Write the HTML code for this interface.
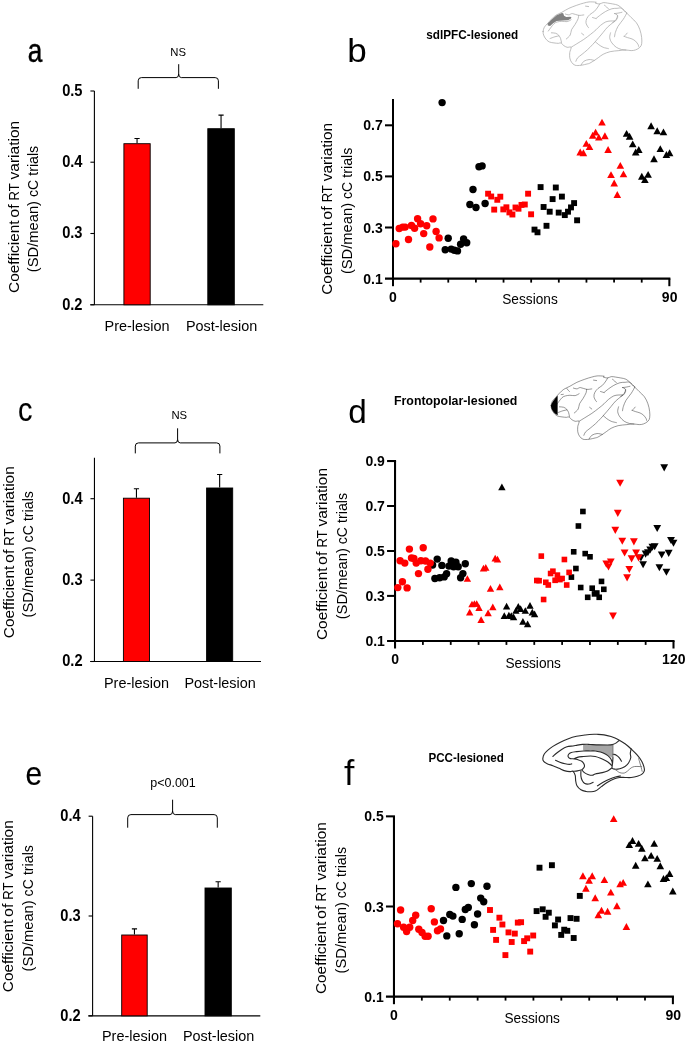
<!DOCTYPE html><html><head><meta charset="utf-8"><title>Figure</title><style>html,body{margin:0;padding:0;background:#fff}svg{display:block;font-family:"Liberation Sans",sans-serif;fill:#000;will-change:transform;-webkit-font-smoothing:antialiased}</style></head><body><svg width="685" height="1049" viewBox="0 0 685 1049"><rect width="685" height="1049" fill="#fff"/><text transform="translate(27.8 62.3) scale(0.77 1)" font-size="34" stroke="#000" stroke-width="0.5">a</text><path d="M94.4 91.0V304.8" stroke="#000" stroke-width="1.1" fill="none"/><path d="M90.3 304.8H263.3" stroke="#000" stroke-width="1.1" fill="none"/><path d="M90.4 91.0H94.4" stroke="#000" stroke-width="1.1"/><text transform="translate(82.5 95.8) scale(0.94 1)" font-size="15.6" font-weight="bold" text-anchor="end">0.5</text><path d="M90.4 162.2H94.4" stroke="#000" stroke-width="1.1"/><text transform="translate(82.5 167.0) scale(0.94 1)" font-size="15.6" font-weight="bold" text-anchor="end">0.4</text><path d="M90.4 233.5H94.4" stroke="#000" stroke-width="1.1"/><text transform="translate(82.5 238.3) scale(0.94 1)" font-size="15.6" font-weight="bold" text-anchor="end">0.3</text><path d="M90.4 304.8H94.4" stroke="#000" stroke-width="1.1"/><text transform="translate(82.5 309.6) scale(0.94 1)" font-size="15.6" font-weight="bold" text-anchor="end">0.2</text><path d="M137.05 143.3V138.5M134.45000000000002 138.5H139.65" stroke="#000" stroke-width="1.1" fill="none"/><rect x="123.9" y="143.70000000000002" width="26.299999999999994" height="161.1" fill="#ff0000" stroke="#000" stroke-width="0.9"/><path d="M221.05 128.3V115.1M218.45000000000002 115.1H223.65" stroke="#000" stroke-width="1.1" fill="none"/><rect x="207.8" y="128.70000000000002" width="26.499999999999982" height="176.1" fill="#000000" stroke="#000" stroke-width="0.9"/><path d="M138.2 88.8V80.8Q138.2 77.6 141.39999999999998 77.6H176.1Q178.7 77.6 178.7 74.0V64.2M178.7 74.0Q178.7 77.6 181.29999999999998 77.6H215.20000000000002Q218.4 77.6 218.4 80.8V88.8" stroke="#000" stroke-width="1" fill="none"/><text x="178.2" y="56.2" font-size="11.3" font-weight="normal" text-anchor="middle" >NS</text><text transform="translate(18.9 292.9) rotate(-90)" font-size="15" textLength="72.5" lengthAdjust="spacingAndGlyphs">Coefficient</text><text transform="translate(18.9 217.8) rotate(-90)" font-size="15" textLength="13.5" lengthAdjust="spacingAndGlyphs">of</text><text transform="translate(18.9 200.4) rotate(-90)" font-size="15" textLength="17.1" lengthAdjust="spacingAndGlyphs">RT</text><text transform="translate(18.9 179.4) rotate(-90)" font-size="15" textLength="58.5" lengthAdjust="spacingAndGlyphs">variation</text><text transform="translate(38.4 272.2) rotate(-90)" font-size="15" textLength="71.2" lengthAdjust="spacingAndGlyphs">(SD/mean)</text><text transform="translate(38.4 197.1) rotate(-90)" font-size="15" textLength="17.2" lengthAdjust="spacingAndGlyphs">cC</text><text transform="translate(38.4 175.8) rotate(-90)" font-size="15" textLength="30.0" lengthAdjust="spacingAndGlyphs">trials</text><text x="137.05" y="330.6" font-size="15" font-weight="normal" text-anchor="middle" textLength="65" lengthAdjust="spacingAndGlyphs">Pre-lesion</text><text x="221.55" y="330.6" font-size="15" font-weight="normal" text-anchor="middle" textLength="71.3" lengthAdjust="spacingAndGlyphs">Post-lesion</text><text transform="translate(18.0 421.4) scale(0.85 1)" font-size="34" stroke="#000" stroke-width="0.15">c</text><path d="M94.45 457.8V661.5" stroke="#000" stroke-width="1.1" fill="none"/><path d="M90.2 661.5H261" stroke="#000" stroke-width="1.1" fill="none"/><path d="M90.45 498.7H94.45" stroke="#000" stroke-width="1.1"/><text transform="translate(82.55 503.5) scale(0.94 1)" font-size="15.6" font-weight="bold" text-anchor="end">0.4</text><path d="M90.45 580.1H94.45" stroke="#000" stroke-width="1.1"/><text transform="translate(82.55 584.9) scale(0.94 1)" font-size="15.6" font-weight="bold" text-anchor="end">0.3</text><path d="M90.45 661.5H94.45" stroke="#000" stroke-width="1.1"/><text transform="translate(82.55 666.3) scale(0.94 1)" font-size="15.6" font-weight="bold" text-anchor="end">0.2</text><path d="M136.45 497.8V488.8M133.85 488.8H139.04999999999998" stroke="#000" stroke-width="1.1" fill="none"/><rect x="123.4" y="498.2" width="26.100000000000005" height="163.29999999999998" fill="#ff0000" stroke="#000" stroke-width="0.9"/><path d="M219.64999999999998 487.6V474.5M217.04999999999998 474.5H222.24999999999997" stroke="#000" stroke-width="1.1" fill="none"/><rect x="206.6" y="488.0" width="26.100000000000005" height="173.49999999999997" fill="#000000" stroke="#000" stroke-width="0.9"/><path d="M135.3 453.4V446.09999999999997Q135.3 442.9 138.5 442.9H175.0Q177.6 442.9 177.6 439.29999999999995V428.3M177.6 439.29999999999995Q177.6 442.9 180.2 442.9H216.70000000000002Q219.9 442.9 219.9 446.09999999999997V453.4" stroke="#000" stroke-width="1" fill="none"/><text x="179.3" y="419.2" font-size="11.3" font-weight="normal" text-anchor="middle" >NS</text><text transform="translate(13.6 638.2) rotate(-90)" font-size="15" textLength="72.5" lengthAdjust="spacingAndGlyphs">Coefficient</text><text transform="translate(13.6 563.1) rotate(-90)" font-size="15" textLength="13.5" lengthAdjust="spacingAndGlyphs">of</text><text transform="translate(13.6 545.7) rotate(-90)" font-size="15" textLength="17.1" lengthAdjust="spacingAndGlyphs">RT</text><text transform="translate(13.6 524.7) rotate(-90)" font-size="15" textLength="58.5" lengthAdjust="spacingAndGlyphs">variation</text><text transform="translate(33.2 617.5) rotate(-90)" font-size="15" textLength="71.2" lengthAdjust="spacingAndGlyphs">(SD/mean)</text><text transform="translate(33.2 542.4) rotate(-90)" font-size="15" textLength="17.2" lengthAdjust="spacingAndGlyphs">cC</text><text transform="translate(33.2 521.1) rotate(-90)" font-size="15" textLength="30.0" lengthAdjust="spacingAndGlyphs">trials</text><text x="136.45" y="687.5" font-size="15" font-weight="normal" text-anchor="middle" textLength="65" lengthAdjust="spacingAndGlyphs">Pre-lesion</text><text x="220.14999999999998" y="687.5" font-size="15" font-weight="normal" text-anchor="middle" textLength="71.3" lengthAdjust="spacingAndGlyphs">Post-lesion</text><text transform="translate(25.6 784.8) scale(0.905 1)" font-size="33" stroke="#000" stroke-width="0.15">e</text><path d="M92.6 816.2V1015.85" stroke="#000" stroke-width="1.1" fill="none"/><path d="M88.3 1015.85H260.3" stroke="#000" stroke-width="1.1" fill="none"/><path d="M88.6 816.2H92.6" stroke="#000" stroke-width="1.1"/><text transform="translate(80.69999999999999 821.0) scale(0.94 1)" font-size="15.6" font-weight="bold" text-anchor="end">0.4</text><path d="M88.6 916.0H92.6" stroke="#000" stroke-width="1.1"/><text transform="translate(80.69999999999999 920.8) scale(0.94 1)" font-size="15.6" font-weight="bold" text-anchor="end">0.3</text><path d="M88.6 1015.85H92.6" stroke="#000" stroke-width="1.1"/><text transform="translate(80.69999999999999 1020.65) scale(0.94 1)" font-size="15.6" font-weight="bold" text-anchor="end">0.2</text><path d="M134.45 934.6V928.9M131.85 928.9H137.04999999999998" stroke="#000" stroke-width="1.1" fill="none"/><rect x="121.7" y="935.0" width="25.499999999999996" height="80.85" fill="#ff0000" stroke="#000" stroke-width="0.9"/><path d="M218.14999999999998 887.6V881.8M215.54999999999998 881.8H220.74999999999997" stroke="#000" stroke-width="1.1" fill="none"/><rect x="205.0" y="888.0" width="26.299999999999994" height="127.85" fill="#000000" stroke="#000" stroke-width="0.9"/><path d="M127.7 827.7V817.8000000000001Q127.7 814.6 130.9 814.6H170.0Q172.6 814.6 172.6 811.0V799.7M172.6 811.0Q172.6 814.6 175.2 814.6H214.10000000000002Q217.3 814.6 217.3 817.8000000000001V827.7" stroke="#000" stroke-width="1" fill="none"/><text x="173" y="787" font-size="12.5" font-weight="normal" text-anchor="middle" >p&lt;0.001</text><text transform="translate(12.85 992.2) rotate(-90)" font-size="15" textLength="72.5" lengthAdjust="spacingAndGlyphs">Coefficient</text><text transform="translate(12.85 917.1) rotate(-90)" font-size="15" textLength="13.5" lengthAdjust="spacingAndGlyphs">of</text><text transform="translate(12.85 899.7) rotate(-90)" font-size="15" textLength="17.1" lengthAdjust="spacingAndGlyphs">RT</text><text transform="translate(12.85 878.7) rotate(-90)" font-size="15" textLength="58.5" lengthAdjust="spacingAndGlyphs">variation</text><text transform="translate(32.5 971.5) rotate(-90)" font-size="15" textLength="71.2" lengthAdjust="spacingAndGlyphs">(SD/mean)</text><text transform="translate(32.5 896.4) rotate(-90)" font-size="15" textLength="17.2" lengthAdjust="spacingAndGlyphs">cC</text><text transform="translate(32.5 875.1) rotate(-90)" font-size="15" textLength="30.0" lengthAdjust="spacingAndGlyphs">trials</text><text x="134.45" y="1041.3" font-size="15" font-weight="normal" text-anchor="middle" textLength="65" lengthAdjust="spacingAndGlyphs">Pre-lesion</text><text x="218.64999999999998" y="1041.3" font-size="15" font-weight="normal" text-anchor="middle" textLength="71.3" lengthAdjust="spacingAndGlyphs">Post-lesion</text><text transform="translate(347.3 62.2) scale(1.03 1)" font-size="34">b</text><path d="M393.0 99.0V286.20000000000005" stroke="#000" stroke-width="2.05" fill="none"/><path d="M385.0 278.6H670.375" stroke="#000" stroke-width="2.05" fill="none"/><path d="M385.0 125.3H393.0" stroke="#000" stroke-width="2.05"/><text x="382.8" y="130.3" font-size="14" font-weight="bold" text-anchor="end" >0.7</text><path d="M385.0 176.4H393.0" stroke="#000" stroke-width="2.05"/><text x="382.8" y="181.4" font-size="14" font-weight="bold" text-anchor="end" >0.5</text><path d="M385.0 227.5H393.0" stroke="#000" stroke-width="2.05"/><text x="382.8" y="232.5" font-size="14" font-weight="bold" text-anchor="end" >0.3</text><text x="382.8" y="283.6" font-size="14" font-weight="bold" text-anchor="end" >0.1</text><path d="M420.63 278.6V282.6" stroke="#000" stroke-width="1.8"/><path d="M448.27 278.6V282.6" stroke="#000" stroke-width="1.8"/><path d="M475.9 278.6V282.6" stroke="#000" stroke-width="1.8"/><path d="M503.54 278.6V282.6" stroke="#000" stroke-width="1.8"/><path d="M531.17 278.6V282.6" stroke="#000" stroke-width="1.8"/><path d="M558.81 278.6V282.6" stroke="#000" stroke-width="1.8"/><path d="M586.45 278.6V282.6" stroke="#000" stroke-width="1.8"/><path d="M614.08 278.6V282.6" stroke="#000" stroke-width="1.8"/><path d="M641.72 278.6V282.6" stroke="#000" stroke-width="1.8"/><path d="M669.35 278.6V286.20000000000005" stroke="#000" stroke-width="2.05"/><text x="393.0" y="301.7" font-size="14" font-weight="bold" text-anchor="middle" >0</text><text x="669.65" y="301.7" font-size="14" font-weight="bold" text-anchor="middle" >90</text><text x="530.0" y="304.1" font-size="15" font-weight="normal" text-anchor="middle" textLength="55.5" lengthAdjust="spacingAndGlyphs">Sessions</text><text x="426.3" y="38.8" font-size="13" font-weight="bold" text-anchor="start" textLength="92" lengthAdjust="spacingAndGlyphs">sdlPFC-lesioned</text><text transform="translate(331.95 294.8) rotate(-90)" font-size="15" textLength="72.5" lengthAdjust="spacingAndGlyphs">Coefficient</text><text transform="translate(331.95 219.7) rotate(-90)" font-size="15" textLength="13.5" lengthAdjust="spacingAndGlyphs">of</text><text transform="translate(331.95 202.3) rotate(-90)" font-size="15" textLength="17.1" lengthAdjust="spacingAndGlyphs">RT</text><text transform="translate(331.95 181.3) rotate(-90)" font-size="15" textLength="58.5" lengthAdjust="spacingAndGlyphs">variation</text><text transform="translate(351.5 274.1) rotate(-90)" font-size="15" textLength="71.2" lengthAdjust="spacingAndGlyphs">(SD/mean)</text><text transform="translate(351.5 199.0) rotate(-90)" font-size="15" textLength="17.2" lengthAdjust="spacingAndGlyphs">cC</text><text transform="translate(351.5 177.7) rotate(-90)" font-size="15" textLength="30.0" lengthAdjust="spacingAndGlyphs">trials</text><path d="M626.6 129.95L630.4 136.85L622.8 136.85Z" fill="#000000"/><path d="M629.6 132.75L633.4 139.65L625.8 139.65Z" fill="#000000"/><path d="M632.7 140.45L636.5 147.35L628.9 147.35Z" fill="#000000"/><path d="M635.7 148.55L639.5 155.45L631.9 155.45Z" fill="#000000"/><path d="M638.8 146.05L642.6 152.95L635.0 152.95Z" fill="#000000"/><path d="M641.8 172.75L645.6 179.65L638.0 179.65Z" fill="#000000"/><path d="M644.9 176.15L648.7 183.05L641.1 183.05Z" fill="#000000"/><path d="M648.1 170.95L651.9 177.85L644.3 177.85Z" fill="#000000"/><path d="M651.1 122.35L654.9 129.25L647.3 129.25Z" fill="#000000"/><path d="M654.0 155.35L657.8 162.25L650.2 162.25Z" fill="#000000"/><path d="M657.2 127.25L661.0 134.15L653.4 134.15Z" fill="#000000"/><path d="M660.3 145.15L664.1 152.05L656.5 152.05Z" fill="#000000"/><path d="M663.5 128.45L667.3 135.35L659.7 135.35Z" fill="#000000"/><path d="M666.4 151.05L670.2 157.95L662.6 157.95Z" fill="#000000"/><path d="M669.6 149.25L673.4 156.15L665.8 156.15Z" fill="#000000"/><path d="M580.2 148.55L584.0 155.45L576.4 155.45Z" fill="#ff0000"/><path d="M583.4 149.25L587.2 156.15L579.6 156.15Z" fill="#ff0000"/><path d="M586.3 139.95L590.1 146.85L582.5 146.85Z" fill="#ff0000"/><path d="M589.5 143.15L593.3 150.05L585.7 150.05Z" fill="#ff0000"/><path d="M592.7 131.85L596.5 138.75L588.9 138.75Z" fill="#ff0000"/><path d="M595.6 128.65L599.4 135.55L591.8 135.55Z" fill="#ff0000"/><path d="M598.8 133.65L602.6 140.55L595.0 140.55Z" fill="#ff0000"/><path d="M602.0 118.65L605.8 125.55L598.2 125.55Z" fill="#ff0000"/><path d="M604.9 132.25L608.7 139.15L601.1 139.15Z" fill="#ff0000"/><path d="M608.1 146.05L611.9 152.95L604.3 152.95Z" fill="#ff0000"/><path d="M611.0 171.15L614.8 178.05L607.2 178.05Z" fill="#ff0000"/><path d="M614.2 179.55L618.0 186.45L610.4 186.45Z" fill="#ff0000"/><path d="M617.3 191.05L621.1 197.95L613.5 197.95Z" fill="#ff0000"/><path d="M620.3 161.95L624.1 168.85L616.5 168.85Z" fill="#ff0000"/><path d="M623.5 170.45L627.3 177.35L619.7 177.35Z" fill="#ff0000"/><rect x="531.55" y="226.65" width="5.9" height="5.9" fill="#000000"/><rect x="534.55" y="229.35" width="5.9" height="5.9" fill="#000000"/><rect x="537.65" y="184.15" width="5.9" height="5.9" fill="#000000"/><rect x="540.65" y="204.05" width="5.9" height="5.9" fill="#000000"/><rect x="543.55" y="222.85" width="5.9" height="5.9" fill="#000000"/><rect x="546.75" y="208.75" width="5.9" height="5.9" fill="#000000"/><rect x="549.65" y="196.15" width="5.9" height="5.9" fill="#000000"/><rect x="552.85" y="184.55" width="5.9" height="5.9" fill="#000000"/><rect x="555.75" y="209.65" width="5.9" height="5.9" fill="#000000"/><rect x="558.95" y="193.65" width="5.9" height="5.9" fill="#000000"/><rect x="561.85" y="212.15" width="5.9" height="5.9" fill="#000000"/><rect x="565.05" y="208.75" width="5.9" height="5.9" fill="#000000"/><rect x="568.05" y="204.45" width="5.9" height="5.9" fill="#000000"/><rect x="571.15" y="200.15" width="5.9" height="5.9" fill="#000000"/><rect x="574.15" y="217.35" width="5.9" height="5.9" fill="#000000"/><rect x="485.15" y="190.75" width="5.9" height="5.9" fill="#ff0000"/><rect x="488.25" y="193.55" width="5.9" height="5.9" fill="#ff0000"/><rect x="491.25" y="206.65" width="5.9" height="5.9" fill="#ff0000"/><rect x="494.35" y="196.85" width="5.9" height="5.9" fill="#ff0000"/><rect x="497.35" y="193.75" width="5.9" height="5.9" fill="#ff0000"/><rect x="500.35" y="206.45" width="5.9" height="5.9" fill="#ff0000"/><rect x="503.45" y="204.35" width="5.9" height="5.9" fill="#ff0000"/><rect x="506.45" y="209.45" width="5.9" height="5.9" fill="#ff0000"/><rect x="509.45" y="211.55" width="5.9" height="5.9" fill="#ff0000"/><rect x="512.55" y="204.55" width="5.9" height="5.9" fill="#ff0000"/><rect x="515.55" y="205.75" width="5.9" height="5.9" fill="#ff0000"/><rect x="518.55" y="201.95" width="5.9" height="5.9" fill="#ff0000"/><rect x="521.85" y="201.55" width="5.9" height="5.9" fill="#ff0000"/><rect x="525.15" y="190.75" width="5.9" height="5.9" fill="#ff0000"/><rect x="528.15" y="211.35" width="5.9" height="5.9" fill="#ff0000"/><circle cx="442.1" cy="102.6" r="3.7" fill="#000000"/><circle cx="445.2" cy="249.8" r="3.7" fill="#000000"/><circle cx="448.2" cy="238.3" r="3.7" fill="#000000"/><circle cx="451.2" cy="249.1" r="3.7" fill="#000000"/><circle cx="454.3" cy="250.2" r="3.7" fill="#000000"/><circle cx="457.5" cy="250.9" r="3.7" fill="#000000"/><circle cx="460.6" cy="244.2" r="3.7" fill="#000000"/><circle cx="463.6" cy="239.0" r="3.7" fill="#000000"/><circle cx="466.7" cy="242.8" r="3.7" fill="#000000"/><circle cx="469.9" cy="204.5" r="3.7" fill="#000000"/><circle cx="473.0" cy="189.5" r="3.7" fill="#000000"/><circle cx="476.0" cy="207.5" r="3.7" fill="#000000"/><circle cx="479.0" cy="166.8" r="3.7" fill="#000000"/><circle cx="482.1" cy="165.9" r="3.7" fill="#000000"/><circle cx="485.1" cy="203.5" r="3.7" fill="#000000"/><circle cx="395.9" cy="243.7" r="3.7" fill="#ff0000"/><circle cx="399.2" cy="228.5" r="3.7" fill="#ff0000"/><circle cx="402.7" cy="227.1" r="3.7" fill="#ff0000"/><circle cx="405.2" cy="227.1" r="3.7" fill="#ff0000"/><circle cx="408.5" cy="239.5" r="3.7" fill="#ff0000"/><circle cx="411.5" cy="225.5" r="3.7" fill="#ff0000"/><circle cx="414.6" cy="228.3" r="3.7" fill="#ff0000"/><circle cx="417.6" cy="218.7" r="3.7" fill="#ff0000"/><circle cx="420.6" cy="223.8" r="3.7" fill="#ff0000"/><circle cx="423.7" cy="233.6" r="3.7" fill="#ff0000"/><circle cx="426.7" cy="225.7" r="3.7" fill="#ff0000"/><circle cx="429.8" cy="247.0" r="3.7" fill="#ff0000"/><circle cx="433.0" cy="218.9" r="3.7" fill="#ff0000"/><circle cx="436.1" cy="231.5" r="3.7" fill="#ff0000"/><circle cx="439.1" cy="237.9" r="3.7" fill="#ff0000"/><text transform="translate(348.2 422.8) scale(0.98 1)" font-size="34">d</text><path d="M395.05 461.05V648.5" stroke="#000" stroke-width="2.05" fill="none"/><path d="M387.05 640.9H674.525" stroke="#000" stroke-width="2.05" fill="none"/><path d="M387.05 461.05H396.075" stroke="#000" stroke-width="2.05"/><text x="384.85" y="466.05" font-size="14" font-weight="bold" text-anchor="end" >0.9</text><path d="M387.05 506.0H395.05" stroke="#000" stroke-width="2.05"/><text x="384.85" y="511.0" font-size="14" font-weight="bold" text-anchor="end" >0.7</text><path d="M387.05 551.0H395.05" stroke="#000" stroke-width="2.05"/><text x="384.85" y="556.0" font-size="14" font-weight="bold" text-anchor="end" >0.5</text><path d="M387.05 595.9H395.05" stroke="#000" stroke-width="2.05"/><text x="384.85" y="600.9" font-size="14" font-weight="bold" text-anchor="end" >0.3</text><text x="384.85" y="645.9" font-size="14" font-weight="bold" text-anchor="end" >0.1</text><path d="M422.89 640.9V644.9" stroke="#000" stroke-width="1.8"/><path d="M450.74 640.9V644.9" stroke="#000" stroke-width="1.8"/><path d="M478.59 640.9V644.9" stroke="#000" stroke-width="1.8"/><path d="M506.43 640.9V644.9" stroke="#000" stroke-width="1.8"/><path d="M534.27 640.9V644.9" stroke="#000" stroke-width="1.8"/><path d="M562.12 640.9V644.9" stroke="#000" stroke-width="1.8"/><path d="M589.97 640.9V644.9" stroke="#000" stroke-width="1.8"/><path d="M617.81 640.9V644.9" stroke="#000" stroke-width="1.8"/><path d="M645.65 640.9V644.9" stroke="#000" stroke-width="1.8"/><path d="M673.5 640.9V648.5" stroke="#000" stroke-width="2.05"/><text x="395.05" y="663.9" font-size="14" font-weight="bold" text-anchor="middle" >0</text><text x="673.8" y="663.9" font-size="14" font-weight="bold" text-anchor="middle" >120</text><text x="533.2" y="667.6" font-size="15" font-weight="normal" text-anchor="middle" textLength="55.5" lengthAdjust="spacingAndGlyphs">Sessions</text><text x="394" y="404.5" font-size="13" font-weight="bold" text-anchor="start" textLength="123.4" lengthAdjust="spacingAndGlyphs">Frontopolar-lesioned</text><text transform="translate(326.95 640.0) rotate(-90)" font-size="15" textLength="72.5" lengthAdjust="spacingAndGlyphs">Coefficient</text><text transform="translate(326.95 564.9) rotate(-90)" font-size="15" textLength="13.5" lengthAdjust="spacingAndGlyphs">of</text><text transform="translate(326.95 547.5) rotate(-90)" font-size="15" textLength="17.1" lengthAdjust="spacingAndGlyphs">RT</text><text transform="translate(326.95 526.5) rotate(-90)" font-size="15" textLength="58.5" lengthAdjust="spacingAndGlyphs">variation</text><text transform="translate(347.0 619.3) rotate(-90)" font-size="15" textLength="71.2" lengthAdjust="spacingAndGlyphs">(SD/mean)</text><text transform="translate(347.0 544.2) rotate(-90)" font-size="15" textLength="17.2" lengthAdjust="spacingAndGlyphs">cC</text><text transform="translate(347.0 522.9) rotate(-90)" font-size="15" textLength="30.0" lengthAdjust="spacingAndGlyphs">trials</text><path d="M640.9 561.55L644.81 554.45L636.99 554.45Z" fill="#000000"/><path d="M643.1 568.35L647.01 561.25L639.19 561.25Z" fill="#000000"/><path d="M645.6 557.65L649.51 550.55L641.69 550.55Z" fill="#000000"/><path d="M647.9 556.35L651.81 549.25L643.99 549.25Z" fill="#000000"/><path d="M650.2 553.55L654.11 546.45L646.29 546.45Z" fill="#000000"/><path d="M652.4 550.85L656.31 543.75L648.49 543.75Z" fill="#000000"/><path d="M654.7 550.25L658.61 543.15L650.79 543.15Z" fill="#000000"/><path d="M657.2 532.05L661.11 524.95L653.29 524.95Z" fill="#000000"/><path d="M659.4 571.25L663.31 564.15L655.49 564.15Z" fill="#000000"/><path d="M661.7 558.55L665.61 551.45L657.79 551.45Z" fill="#000000"/><path d="M664.2 471.45L668.11 464.35L660.29 464.35Z" fill="#000000"/><path d="M666.4 575.75L670.31 568.65L662.49 568.65Z" fill="#000000"/><path d="M668.7 556.95L672.61 549.85L664.79 549.85Z" fill="#000000"/><path d="M671.0 544.05L674.91 536.95L667.09 536.95Z" fill="#000000"/><path d="M673.5 546.85L677.41 539.75L669.59 539.75Z" fill="#000000"/><path d="M606.3 567.65L610.21 560.55L602.39 560.55Z" fill="#ff0000"/><path d="M608.5 570.55L612.41 563.45L604.59 563.45Z" fill="#ff0000"/><path d="M610.8 565.55L614.71 558.45L606.89 558.45Z" fill="#ff0000"/><path d="M613.0 619.65L616.91 612.55L609.09 612.55Z" fill="#ff0000"/><path d="M615.3 533.95L619.21 526.85L611.39 526.85Z" fill="#ff0000"/><path d="M617.8 516.95L621.71 509.85L613.89 509.85Z" fill="#ff0000"/><path d="M620.1 486.85L624.01 479.75L616.19 479.75Z" fill="#ff0000"/><path d="M622.3 544.75L626.21 537.65L618.39 537.65Z" fill="#ff0000"/><path d="M624.6 556.55L628.51 549.45L620.69 549.45Z" fill="#ff0000"/><path d="M627.1 581.45L631.01 574.35L623.19 574.35Z" fill="#ff0000"/><path d="M629.3 573.05L633.21 565.95L625.39 565.95Z" fill="#ff0000"/><path d="M631.6 562.45L635.51 555.35L627.69 555.35Z" fill="#ff0000"/><path d="M633.9 545.45L637.81 538.35L629.99 538.35Z" fill="#ff0000"/><path d="M636.1 556.55L640.01 549.45L632.19 549.45Z" fill="#ff0000"/><path d="M638.6 561.55L642.51 554.45L634.69 554.45Z" fill="#ff0000"/><rect x="568.6" y="574.3" width="5.61" height="5.61" fill="#000000"/><rect x="570.9" y="549.0" width="5.61" height="5.61" fill="#000000"/><rect x="573.1" y="565.7" width="5.61" height="5.61" fill="#000000"/><rect x="575.6" y="523.2" width="5.61" height="5.61" fill="#000000"/><rect x="577.9" y="584.7" width="5.61" height="5.61" fill="#000000"/><rect x="580.1" y="508.69" width="5.61" height="5.61" fill="#000000"/><rect x="582.4" y="550.8" width="5.61" height="5.61" fill="#000000"/><rect x="584.9" y="594.5" width="5.61" height="5.61" fill="#000000"/><rect x="587.2" y="554.0" width="5.61" height="5.61" fill="#000000"/><rect x="589.4" y="585.4" width="5.61" height="5.61" fill="#000000"/><rect x="591.7" y="591.1" width="5.61" height="5.61" fill="#000000"/><rect x="594.0" y="590.2" width="5.61" height="5.61" fill="#000000"/><rect x="596.4" y="594.5" width="5.61" height="5.61" fill="#000000"/><rect x="598.7" y="578.6" width="5.61" height="5.61" fill="#000000"/><rect x="601.0" y="586.5" width="5.61" height="5.61" fill="#000000"/><rect x="534.0" y="577.7" width="5.61" height="5.61" fill="#ff0000"/><rect x="536.3" y="577.9" width="5.61" height="5.61" fill="#ff0000"/><rect x="538.5" y="553.3" width="5.61" height="5.61" fill="#ff0000"/><rect x="540.8" y="596.7" width="5.61" height="5.61" fill="#ff0000"/><rect x="543.0" y="579.5" width="5.61" height="5.61" fill="#ff0000"/><rect x="545.5" y="582.2" width="5.61" height="5.61" fill="#ff0000"/><rect x="547.8" y="570.7" width="5.61" height="5.61" fill="#ff0000"/><rect x="550.1" y="568.4" width="5.61" height="5.61" fill="#ff0000"/><rect x="552.3" y="577.5" width="5.61" height="5.61" fill="#ff0000"/><rect x="554.6" y="572.3" width="5.61" height="5.61" fill="#ff0000"/><rect x="557.1" y="576.8" width="5.61" height="5.61" fill="#ff0000"/><rect x="559.3" y="575.7" width="5.61" height="5.61" fill="#ff0000"/><rect x="561.6" y="556.7" width="5.61" height="5.61" fill="#ff0000"/><rect x="563.9" y="582.2" width="5.61" height="5.61" fill="#ff0000"/><rect x="566.3" y="569.6" width="5.61" height="5.61" fill="#ff0000"/><path d="M501.9 483.55L505.59 490.25L498.21 490.25Z" fill="#000000"/><path d="M504.3 612.25L507.99 618.95L500.61 618.95Z" fill="#000000"/><path d="M506.6 602.75L510.29 609.45L502.91 609.45Z" fill="#000000"/><path d="M508.9 611.85L512.59 618.55L505.21 618.55Z" fill="#000000"/><path d="M511.3 612.25L514.99 618.95L507.61 618.95Z" fill="#000000"/><path d="M513.6 613.45L517.29 620.15L509.91 620.15Z" fill="#000000"/><path d="M515.9 607.15L519.59 613.85L512.21 613.85Z" fill="#000000"/><path d="M518.3 602.95L521.99 609.65L514.61 609.65Z" fill="#000000"/><path d="M520.6 605.25L524.29 611.95L516.91 611.95Z" fill="#000000"/><path d="M522.9 617.95L526.59 624.65L519.21 624.65Z" fill="#000000"/><path d="M525.3 607.15L528.99 613.85L521.61 613.85Z" fill="#000000"/><path d="M527.6 620.45L531.29 627.15L523.91 627.15Z" fill="#000000"/><path d="M530.0 602.05L533.69 608.75L526.31 608.75Z" fill="#000000"/><path d="M532.3 608.75L535.99 615.45L528.61 615.45Z" fill="#000000"/><path d="M534.6 610.45L538.29 617.15L530.91 617.15Z" fill="#000000"/><path d="M467.4 575.15L471.09 581.85L463.71 581.85Z" fill="#ff0000"/><path d="M469.7 608.75L473.39 615.45L466.01 615.45Z" fill="#ff0000"/><path d="M472.0 600.65L475.69 607.35L468.31 607.35Z" fill="#ff0000"/><path d="M474.4 600.15L478.09 606.85L470.71 606.85Z" fill="#ff0000"/><path d="M476.7 600.15L480.39 606.85L473.01 606.85Z" fill="#ff0000"/><path d="M479.0 604.35L482.69 611.05L475.31 611.05Z" fill="#ff0000"/><path d="M481.1 616.25L484.79 622.95L477.41 622.95Z" fill="#ff0000"/><path d="M483.5 564.85L487.19 571.55L479.81 571.55Z" fill="#ff0000"/><path d="M485.8 563.95L489.49 570.65L482.11 570.65Z" fill="#ff0000"/><path d="M488.1 609.45L491.79 616.15L484.41 616.15Z" fill="#ff0000"/><path d="M490.5 584.95L494.19 591.65L486.81 591.65Z" fill="#ff0000"/><path d="M492.8 603.45L496.49 610.15L489.11 610.15Z" fill="#ff0000"/><path d="M495.2 554.85L498.89 561.55L491.51 561.55Z" fill="#ff0000"/><path d="M497.5 555.75L501.19 562.45L493.81 562.45Z" fill="#ff0000"/><path d="M499.8 583.55L503.49 590.25L496.11 590.25Z" fill="#ff0000"/><circle cx="432.6" cy="565.0" r="3.7" fill="#000000"/><circle cx="434.9" cy="578.5" r="3.7" fill="#000000"/><circle cx="437.2" cy="559.1" r="3.7" fill="#000000"/><circle cx="439.6" cy="577.8" r="3.7" fill="#000000"/><circle cx="441.9" cy="565.4" r="3.7" fill="#000000"/><circle cx="444.2" cy="576.9" r="3.7" fill="#000000"/><circle cx="446.6" cy="573.8" r="3.7" fill="#000000"/><circle cx="448.9" cy="566.1" r="3.7" fill="#000000"/><circle cx="451.2" cy="561.0" r="3.7" fill="#000000"/><circle cx="453.6" cy="566.8" r="3.7" fill="#000000"/><circle cx="455.9" cy="562.2" r="3.7" fill="#000000"/><circle cx="458.2" cy="566.8" r="3.7" fill="#000000"/><circle cx="460.6" cy="577.8" r="3.7" fill="#000000"/><circle cx="462.9" cy="573.6" r="3.7" fill="#000000"/><circle cx="465.3" cy="563.8" r="3.7" fill="#000000"/><circle cx="397.8" cy="587.6" r="3.7" fill="#ff0000"/><circle cx="400.1" cy="560.8" r="3.7" fill="#ff0000"/><circle cx="402.4" cy="581.8" r="3.7" fill="#ff0000"/><circle cx="404.8" cy="563.1" r="3.7" fill="#ff0000"/><circle cx="407.1" cy="587.9" r="3.7" fill="#ff0000"/><circle cx="409.4" cy="549.1" r="3.7" fill="#ff0000"/><circle cx="411.5" cy="558.0" r="3.7" fill="#ff0000"/><circle cx="413.9" cy="558.4" r="3.7" fill="#ff0000"/><circle cx="416.2" cy="563.1" r="3.7" fill="#ff0000"/><circle cx="418.5" cy="573.6" r="3.7" fill="#ff0000"/><circle cx="420.9" cy="560.8" r="3.7" fill="#ff0000"/><circle cx="423.2" cy="547.7" r="3.7" fill="#ff0000"/><circle cx="425.5" cy="561.0" r="3.7" fill="#ff0000"/><circle cx="427.9" cy="569.2" r="3.7" fill="#ff0000"/><circle cx="430.2" cy="563.1" r="3.7" fill="#ff0000"/><text transform="translate(343.8 784.9) scale(1.09 1)" font-size="35.6" stroke="#fff" stroke-width="0.22">f</text><path d="M393.95 816.35V1004.2" stroke="#000" stroke-width="2.05" fill="none"/><path d="M385.95 996.6H673.925" stroke="#000" stroke-width="2.05" fill="none"/><path d="M385.95 816.35H394.97499999999997" stroke="#000" stroke-width="2.05"/><text x="383.75" y="821.35" font-size="14" font-weight="bold" text-anchor="end" >0.5</text><path d="M385.95 906.5H393.95" stroke="#000" stroke-width="2.05"/><text x="383.75" y="911.5" font-size="14" font-weight="bold" text-anchor="end" >0.3</text><text x="383.75" y="1001.6" font-size="14" font-weight="bold" text-anchor="end" >0.1</text><path d="M421.84 996.6V1000.6" stroke="#000" stroke-width="1.8"/><path d="M449.74 996.6V1000.6" stroke="#000" stroke-width="1.8"/><path d="M477.63 996.6V1000.6" stroke="#000" stroke-width="1.8"/><path d="M505.53 996.6V1000.6" stroke="#000" stroke-width="1.8"/><path d="M533.42 996.6V1000.6" stroke="#000" stroke-width="1.8"/><path d="M561.32 996.6V1000.6" stroke="#000" stroke-width="1.8"/><path d="M589.21 996.6V1000.6" stroke="#000" stroke-width="1.8"/><path d="M617.11 996.6V1000.6" stroke="#000" stroke-width="1.8"/><path d="M645.0 996.6V1000.6" stroke="#000" stroke-width="1.8"/><path d="M672.9 996.6V1004.2" stroke="#000" stroke-width="2.05"/><text x="393.95" y="1019.9" font-size="14" font-weight="bold" text-anchor="middle" >0</text><text x="673.1999999999999" y="1019.9" font-size="14" font-weight="bold" text-anchor="middle" >90</text><text x="532.2" y="1022.7" font-size="15" font-weight="normal" text-anchor="middle" textLength="55.5" lengthAdjust="spacingAndGlyphs">Sessions</text><text x="428.4" y="761.9" font-size="13" font-weight="bold" text-anchor="start" textLength="75.4" lengthAdjust="spacingAndGlyphs">PCC-lesioned</text><text transform="translate(326.3 994.1) rotate(-90)" font-size="15" textLength="72.5" lengthAdjust="spacingAndGlyphs">Coefficient</text><text transform="translate(326.3 919.0) rotate(-90)" font-size="15" textLength="13.5" lengthAdjust="spacingAndGlyphs">of</text><text transform="translate(326.3 901.6) rotate(-90)" font-size="15" textLength="17.1" lengthAdjust="spacingAndGlyphs">RT</text><text transform="translate(326.3 880.6) rotate(-90)" font-size="15" textLength="58.5" lengthAdjust="spacingAndGlyphs">variation</text><text transform="translate(346.0 973.4) rotate(-90)" font-size="15" textLength="71.2" lengthAdjust="spacingAndGlyphs">(SD/mean)</text><text transform="translate(346.0 898.3) rotate(-90)" font-size="15" textLength="17.2" lengthAdjust="spacingAndGlyphs">cC</text><text transform="translate(346.0 877.0) rotate(-90)" font-size="15" textLength="30.0" lengthAdjust="spacingAndGlyphs">trials</text><path d="M629.3 841.15L633.1 848.05L625.5 848.05Z" fill="#000000"/><path d="M632.5 837.05L636.3 843.95L628.7 843.95Z" fill="#000000"/><path d="M635.7 861.75L639.5 868.65L631.9 868.65Z" fill="#000000"/><path d="M638.6 839.95L642.4 846.85L634.8 846.85Z" fill="#000000"/><path d="M641.8 844.75L645.6 851.65L638.0 851.65Z" fill="#000000"/><path d="M644.9 854.45L648.7 861.35L641.1 861.35Z" fill="#000000"/><path d="M647.9 880.45L651.7 887.35L644.1 887.35Z" fill="#000000"/><path d="M651.1 851.95L654.9 858.85L647.3 858.85Z" fill="#000000"/><path d="M654.2 839.95L658.0 846.85L650.4 846.85Z" fill="#000000"/><path d="M657.2 854.95L661.0 861.85L653.4 861.85Z" fill="#000000"/><path d="M660.3 862.35L664.1 869.25L656.5 869.25Z" fill="#000000"/><path d="M663.5 875.05L667.3 881.95L659.7 881.95Z" fill="#000000"/><path d="M666.4 874.15L670.2 881.05L662.6 881.05Z" fill="#000000"/><path d="M669.6 870.05L673.4 876.95L665.8 876.95Z" fill="#000000"/><path d="M672.8 887.55L676.6 894.45L669.0 894.45Z" fill="#000000"/><path d="M582.9 872.35L586.7 879.25L579.1 879.25Z" fill="#ff0000"/><path d="M585.9 884.75L589.7 891.65L582.1 891.65Z" fill="#ff0000"/><path d="M589.1 876.85L592.9 883.75L585.3 883.75Z" fill="#ff0000"/><path d="M592.2 872.35L596.0 879.25L588.4 879.25Z" fill="#ff0000"/><path d="M595.2 894.35L599.0 901.25L591.4 901.25Z" fill="#ff0000"/><path d="M598.3 911.25L602.1 918.15L594.5 918.15Z" fill="#ff0000"/><path d="M601.5 906.75L605.3 913.65L597.7 913.65Z" fill="#ff0000"/><path d="M604.4 876.15L608.2 883.05L600.6 883.05Z" fill="#ff0000"/><path d="M607.6 907.85L611.4 914.75L603.8 914.75Z" fill="#ff0000"/><path d="M610.8 888.65L614.6 895.55L607.0 895.55Z" fill="#ff0000"/><path d="M613.7 815.15L617.5 822.05L609.9 822.05Z" fill="#ff0000"/><path d="M616.9 902.25L620.7 909.15L613.1 909.15Z" fill="#ff0000"/><path d="M620.1 880.45L623.9 887.35L616.3 887.35Z" fill="#ff0000"/><path d="M623.2 878.95L627.0 885.85L619.4 885.85Z" fill="#ff0000"/><path d="M626.4 923.05L630.2 929.95L622.6 929.95Z" fill="#ff0000"/><rect x="533.65" y="908.15" width="5.9" height="5.9" fill="#000000"/><rect x="536.55" y="864.75" width="5.9" height="5.9" fill="#000000"/><rect x="539.75" y="906.35" width="5.9" height="5.9" fill="#000000"/><rect x="542.65" y="913.85" width="5.9" height="5.9" fill="#000000"/><rect x="545.85" y="909.75" width="5.9" height="5.9" fill="#000000"/><rect x="548.95" y="862.25" width="5.9" height="5.9" fill="#000000"/><rect x="551.95" y="922.45" width="5.9" height="5.9" fill="#000000"/><rect x="555.15" y="916.55" width="5.9" height="5.9" fill="#000000"/><rect x="558.25" y="931.95" width="5.9" height="5.9" fill="#000000"/><rect x="561.25" y="926.75" width="5.9" height="5.9" fill="#000000"/><rect x="564.35" y="927.85" width="5.9" height="5.9" fill="#000000"/><rect x="567.55" y="915.15" width="5.9" height="5.9" fill="#000000"/><rect x="570.75" y="935.05" width="5.9" height="5.9" fill="#000000"/><rect x="573.65" y="915.85" width="5.9" height="5.9" fill="#000000"/><rect x="576.85" y="892.95" width="5.9" height="5.9" fill="#000000"/><rect x="487.05" y="907.05" width="5.9" height="5.9" fill="#ff0000"/><rect x="490.15" y="926.95" width="5.9" height="5.9" fill="#ff0000"/><rect x="493.15" y="936.95" width="5.9" height="5.9" fill="#ff0000"/><rect x="496.45" y="914.75" width="5.9" height="5.9" fill="#ff0000"/><rect x="499.45" y="921.55" width="5.9" height="5.9" fill="#ff0000"/><rect x="502.45" y="952.15" width="5.9" height="5.9" fill="#ff0000"/><rect x="505.55" y="929.45" width="5.9" height="5.9" fill="#ff0000"/><rect x="508.75" y="939.05" width="5.9" height="5.9" fill="#ff0000"/><rect x="511.85" y="930.65" width="5.9" height="5.9" fill="#ff0000"/><rect x="514.85" y="919.65" width="5.9" height="5.9" fill="#ff0000"/><rect x="518.15" y="919.25" width="5.9" height="5.9" fill="#ff0000"/><rect x="521.15" y="938.15" width="5.9" height="5.9" fill="#ff0000"/><rect x="524.25" y="935.35" width="5.9" height="5.9" fill="#ff0000"/><rect x="527.25" y="948.65" width="5.9" height="5.9" fill="#ff0000"/><rect x="530.25" y="932.55" width="5.9" height="5.9" fill="#ff0000"/><circle cx="443.5" cy="920.5" r="3.7" fill="#000000"/><circle cx="446.8" cy="935.9" r="3.7" fill="#000000"/><circle cx="449.8" cy="914.5" r="3.7" fill="#000000"/><circle cx="452.9" cy="916.1" r="3.7" fill="#000000"/><circle cx="455.9" cy="887.4" r="3.7" fill="#000000"/><circle cx="459.2" cy="933.8" r="3.7" fill="#000000"/><circle cx="462.2" cy="919.4" r="3.7" fill="#000000"/><circle cx="465.3" cy="909.5" r="3.7" fill="#000000"/><circle cx="468.3" cy="907.4" r="3.7" fill="#000000"/><circle cx="471.3" cy="883.6" r="3.7" fill="#000000"/><circle cx="474.4" cy="924.7" r="3.7" fill="#000000"/><circle cx="477.6" cy="914.0" r="3.7" fill="#000000"/><circle cx="480.7" cy="898.1" r="3.7" fill="#000000"/><circle cx="483.7" cy="901.8" r="3.7" fill="#000000"/><circle cx="487.0" cy="886.2" r="3.7" fill="#000000"/><circle cx="397.5" cy="923.8" r="3.7" fill="#ff0000"/><circle cx="400.6" cy="910.0" r="3.7" fill="#ff0000"/><circle cx="403.6" cy="927.3" r="3.7" fill="#ff0000"/><circle cx="406.6" cy="931.5" r="3.7" fill="#ff0000"/><circle cx="409.7" cy="927.3" r="3.7" fill="#ff0000"/><circle cx="412.7" cy="920.5" r="3.7" fill="#ff0000"/><circle cx="415.7" cy="915.2" r="3.7" fill="#ff0000"/><circle cx="418.8" cy="929.2" r="3.7" fill="#ff0000"/><circle cx="422.0" cy="932.4" r="3.7" fill="#ff0000"/><circle cx="425.1" cy="936.2" r="3.7" fill="#ff0000"/><circle cx="428.1" cy="936.2" r="3.7" fill="#ff0000"/><circle cx="431.2" cy="908.8" r="3.7" fill="#ff0000"/><circle cx="434.4" cy="921.9" r="3.7" fill="#ff0000"/><circle cx="437.5" cy="930.8" r="3.7" fill="#ff0000"/><circle cx="440.5" cy="928.9" r="3.7" fill="#ff0000"/><g transform="translate(540 0) scale(0.08757)" fill="none" stroke="#a8a8a8" stroke-width="8.56" stroke-linejoin="round" stroke-linecap="round"><path d="M35 360C36 343 42 325 50 310C58 295 72 285 85 270C98 255 114 236 130 220C146 204 160 188 180 175C200 162 225 153 250 140C275 127 302 108 330 95C358 82 392 70 420 60C448 50 477 41 500 35C523 29 537 24 560 22C583 20 628 23 640 25C652 27 624 32 631 35C638 38 666 46 681 45C696 44 706 32 721 30C736 28 753 32 771 35C789 38 811 41 831 45C851 49 873 51 891 60C909 69 924 85 941 100C958 115 974 133 991 150C1008 167 1023 182 1041 200C1059 218 1084 237 1101 260C1118 283 1131 312 1141 340C1151 368 1158 403 1161 430C1164 457 1164 482 1161 500C1158 518 1153 528 1141 540C1129 552 1108 564 1091 570C1074 576 1061 578 1041 578C1021 578 994 570 971 570C948 570 929 575 901 578C873 581 831 583 801 590C771 597 743 609 721 620C699 631 688 643 671 655C654 667 638 679 621 690C604 701 584 713 571 720C558 727 557 726 540 730C523 734 493 742 470 745C447 748 418 751 400 745C382 739 370 724 360 710C350 696 343 678 340 660C337 642 338 620 340 600C342 580 360 550 355 540C350 530 324 543 310 540C296 537 282 528 270 520C258 512 250 494 240 490C230 486 223 495 210 495C197 495 177 492 160 490C143 488 124 486 110 480C96 474 86 467 75 455C64 443 52 426 45 410C38 394 34 377 35 360Z" fill="#fff"/><path d="M95 355C99 349 109 334 120 320C131 306 147 282 160 270C173 258 185 254 200 250C215 246 232 244 250 243C268 242 292 250 310 247C328 244 348 229 355 225M290 160C297 162 317 171 330 170C343 169 352 154 370 155C388 156 418 172 440 175C462 178 490 171 500 170M440 175C439 182 442 198 435 215C428 232 412 259 400 280C388 301 369 320 360 340C351 360 355 382 345 400C335 418 308 438 300 445M520 70L555 75M681 45C678 51 671 66 661 80C651 94 636 116 621 130C606 144 585 152 571 165C557 178 543 194 535 210C527 226 523 244 525 260C527 276 540 296 545 305C550 314 553 313 555 315M600 200C607 202 633 210 640 212C647 214 632 217 641 210C650 203 673 183 691 170C709 157 729 142 751 130C773 118 799 106 821 100C843 94 863 96 881 95C899 94 913 86 931 95C949 104 981 141 991 150M736 60C740 63 754 73 761 80C768 87 778 97 781 100M851 155C858 154 877 152 891 150C905 148 928 142 936 140M851 155C856 158 875 162 881 170C887 178 889 188 886 200C883 212 870 231 861 240C852 249 836 252 831 255M355 540C366 533 396 515 420 500C444 485 473 468 500 450C527 432 557 408 580 390C603 372 622 357 640 340C658 323 672 305 691 290C710 275 733 258 751 250C769 242 784 242 801 240C818 238 843 240 851 240M475 380L500 400M130 375C138 376 166 375 180 380C194 385 206 395 215 405C224 415 230 427 235 440C240 453 243 478 245 485M115 440C124 437 153 425 170 420C187 415 208 412 215 410M410 700C413 693 418 673 430 660C442 647 462 635 480 620C498 605 520 588 540 570C560 552 578 533 600 510C622 487 651 453 671 430C691 407 704 390 721 370C738 350 753 328 771 310C789 292 814 275 831 260C848 245 862 233 871 220C880 207 884 187 886 180M631 475C638 481 656 499 671 510C686 521 703 532 721 540C739 548 771 552 781 555M470 742C475 735 485 710 500 700C515 690 540 682 560 680C580 678 610 688 620 690M991 150C984 162 968 195 951 220C934 245 906 275 891 300C876 325 868 350 861 370C854 390 853 412 851 420M806 375C804 384 794 411 796 430C798 449 808 472 821 490C834 508 853 528 871 540C889 552 913 560 931 565C949 570 973 571 981 572M961 415C968 418 986 425 1001 430C1016 435 1036 438 1051 445C1066 452 1079 459 1091 470C1103 481 1115 500 1121 510C1127 520 1125 527 1126 530M961 415C964 412 975 401 981 395C987 389 994 381 996 378"/><path d="M85 270L130 225L190 175L250 148L265 150L275 180L300 195L345 190L360 200L350 215L320 230L260 235L190 240L150 265L115 298L90 290Z" fill="#808080" stroke="none"/></g><g transform="translate(548 374) scale(0.08757)" fill="none" stroke="#333" stroke-width="5.71" stroke-linejoin="round" stroke-linecap="round"><path d="M35 360C36 343 42 325 50 310C58 295 72 285 85 270C98 255 114 236 130 220C146 204 160 188 180 175C200 162 225 153 250 140C275 127 302 108 330 95C358 82 392 70 420 60C448 50 477 41 500 35C523 29 537 24 560 22C583 20 628 23 640 25C652 27 624 32 631 35C638 38 666 46 681 45C696 44 706 32 721 30C736 28 753 32 771 35C789 38 811 41 831 45C851 49 873 51 891 60C909 69 924 85 941 100C958 115 974 133 991 150C1008 167 1023 182 1041 200C1059 218 1084 237 1101 260C1118 283 1131 312 1141 340C1151 368 1158 403 1161 430C1164 457 1164 482 1161 500C1158 518 1153 528 1141 540C1129 552 1108 564 1091 570C1074 576 1061 578 1041 578C1021 578 994 570 971 570C948 570 929 575 901 578C873 581 831 583 801 590C771 597 743 609 721 620C699 631 688 643 671 655C654 667 638 679 621 690C604 701 584 713 571 720C558 727 557 726 540 730C523 734 493 742 470 745C447 748 418 751 400 745C382 739 370 724 360 710C350 696 343 678 340 660C337 642 338 620 340 600C342 580 360 550 355 540C350 530 324 543 310 540C296 537 282 528 270 520C258 512 250 494 240 490C230 486 223 495 210 495C197 495 177 492 160 490C143 488 124 486 110 480C96 474 86 467 75 455C64 443 52 426 45 410C38 394 34 377 35 360Z" fill="#fff"/><path d="M95 355C99 349 109 334 120 320C131 306 147 282 160 270C173 258 185 254 200 250C215 246 232 244 250 243C268 242 292 250 310 247C328 244 348 229 355 225M290 160C297 162 317 171 330 170C343 169 352 154 370 155C388 156 418 172 440 175C462 178 490 171 500 170M440 175C439 182 442 198 435 215C428 232 412 259 400 280C388 301 369 320 360 340C351 360 355 382 345 400C335 418 308 438 300 445M520 70L555 75M681 45C678 51 671 66 661 80C651 94 636 116 621 130C606 144 585 152 571 165C557 178 543 194 535 210C527 226 523 244 525 260C527 276 540 296 545 305C550 314 553 313 555 315M600 200C607 202 633 210 640 212C647 214 632 217 641 210C650 203 673 183 691 170C709 157 729 142 751 130C773 118 799 106 821 100C843 94 863 96 881 95C899 94 913 86 931 95C949 104 981 141 991 150M736 60C740 63 754 73 761 80C768 87 778 97 781 100M851 155C858 154 877 152 891 150C905 148 928 142 936 140M851 155C856 158 875 162 881 170C887 178 889 188 886 200C883 212 870 231 861 240C852 249 836 252 831 255M355 540C366 533 396 515 420 500C444 485 473 468 500 450C527 432 557 408 580 390C603 372 622 357 640 340C658 323 672 305 691 290C710 275 733 258 751 250C769 242 784 242 801 240C818 238 843 240 851 240M475 380L500 400M130 375C138 376 166 375 180 380C194 385 206 395 215 405C224 415 230 427 235 440C240 453 243 478 245 485M115 440C124 437 153 425 170 420C187 415 208 412 215 410M410 700C413 693 418 673 430 660C442 647 462 635 480 620C498 605 520 588 540 570C560 552 578 533 600 510C622 487 651 453 671 430C691 407 704 390 721 370C738 350 753 328 771 310C789 292 814 275 831 260C848 245 862 233 871 220C880 207 884 187 886 180M631 475C638 481 656 499 671 510C686 521 703 532 721 540C739 548 771 552 781 555M470 742C475 735 485 710 500 700C515 690 540 682 560 680C580 678 610 688 620 690M991 150C984 162 968 195 951 220C934 245 906 275 891 300C876 325 868 350 861 370C854 390 853 412 851 420M806 375C804 384 794 411 796 430C798 449 808 472 821 490C834 508 853 528 871 540C889 552 913 560 931 565C949 570 973 571 981 572M961 415C968 418 986 425 1001 430C1016 435 1036 438 1051 445C1066 452 1079 459 1091 470C1103 481 1115 500 1121 510C1127 520 1125 527 1126 530M961 415C964 412 975 401 981 395C987 389 994 381 996 378M215,165L230,185L245,200M150,235L175,232"/><path d="M110,246C78,283 37,330 34,366C37,412 74,454 110,472Z" fill="#000" stroke="none"/></g><g transform="translate(538 728) scale(0.08757)" fill="none" stroke="#2a2a2a" stroke-width="12.79" stroke-linejoin="round" stroke-linecap="round"><path d="M55 350C56 337 61 316 70 300C79 284 93 270 110 255C127 240 147 225 170 210C193 195 222 179 250 165C278 151 308 137 340 125C372 113 407 102 440 95C473 88 507 84 540 80C573 76 618 73 640 72C662 71 655 71 674 72C693 73 727 74 754 78C781 82 807 89 834 98C861 107 887 116 914 130C941 144 969 162 994 180C1019 198 1041 218 1064 240C1087 262 1114 287 1134 310C1154 333 1172 358 1184 380C1196 402 1204 422 1209 440C1214 458 1218 475 1214 490C1210 505 1197 520 1184 530C1171 540 1154 544 1134 550C1114 556 1087 562 1064 565C1041 568 1016 565 994 565C972 565 954 562 934 565C914 568 897 571 874 580C851 589 819 605 794 620C769 635 747 653 724 670C701 687 676 710 654 720C632 730 611 727 594 728C577 729 567 729 550 725C533 721 508 716 490 705C472 694 455 678 445 660C435 642 433 620 430 600C427 580 430 558 425 540C420 522 409 502 400 495C391 488 385 499 370 498C355 497 332 496 310 490C288 484 263 470 240 460C217 450 192 438 170 430C148 422 128 418 110 410C92 402 74 390 65 380C56 370 54 363 55 350Z" fill="#fff"/><path d="M515 190L594 190L856 195L856 345L819 322L774 297L714 273L654 261L594 260L515 258Z" fill="#a6a6a6" stroke="none"/><path d="M400 495C408 494 433 493 450 490C467 487 492 480 500 478M170 325C178 318 198 298 215 285C232 272 251 257 270 245C289 233 308 222 330 215C352 208 380 208 400 205C420 202 432 198 450 195C468 192 492 188 510 187C528 186 546 186 560 186C574 186 572 187 594 188C616 189 661 192 694 193C727 194 768 194 794 194C820 194 832 194 849 190C866 186 882 178 894 170C906 162 919 149 924 145M200 368C208 372 232 383 250 390C268 397 292 404 310 408C328 412 348 415 360 415C372 415 381 411 385 410M844 455C845 449 849 432 849 420C849 408 849 394 844 380C839 366 831 348 819 335C807 322 792 310 774 300C756 290 734 281 714 275C694 269 673 264 654 262C635 260 622 262 600 262C578 262 547 261 520 262C493 263 463 267 440 270C417 273 395 275 380 280C365 285 356 292 350 300C344 308 342 322 345 330C348 338 359 346 370 350C381 354 397 350 410 352C423 354 435 355 450 360C465 365 488 372 500 380C512 388 520 400 525 410C530 420 532 431 530 440C528 449 520 459 515 465C510 471 502 476 500 478M410 352C417 349 432 340 450 335C468 330 495 328 520 325C545 322 578 320 600 320C622 320 635 321 654 325C673 329 694 337 714 345C734 353 756 365 774 375C792 385 808 396 819 405C830 414 838 426 842 430M500 478C505 483 518 501 530 510C542 519 555 525 570 530C585 535 606 541 620 540C634 539 635 530 654 525C673 520 711 516 734 510C757 504 776 499 794 490C812 481 836 461 844 455M490 495C490 504 488 532 490 550C492 568 498 586 505 600C512 614 522 628 535 635C548 642 564 642 580 640C596 638 622 623 630 620M856 340C855 350 854 381 852 400C850 419 845 446 844 455M856 300C862 302 882 303 894 310C906 317 919 328 929 340C939 352 950 373 954 380M1064 240C1062 248 1055 273 1054 290C1053 307 1062 322 1059 340C1056 358 1045 383 1034 400C1023 417 1011 429 994 440C977 451 954 460 934 465C914 470 888 471 874 470C860 469 853 462 849 460M679 660C690 653 722 632 744 620C766 608 791 595 814 585C837 575 862 566 884 560C906 554 934 550 944 548"/><path d="M856 195L856 340M874 470C879 473 894 483 904 490C914 497 921 506 934 510C947 514 969 518 984 515C999 512 1011 500 1024 490C1037 480 1051 463 1064 455C1077 447 1089 442 1104 440C1119 438 1141 440 1154 440C1167 440 1179 442 1184 442M1149 350C1152 358 1159 383 1164 400C1169 417 1175 434 1179 450C1183 466 1187 488 1189 495" stroke="#6a6a6a" stroke-width="9.71"/></g></svg></body></html>
